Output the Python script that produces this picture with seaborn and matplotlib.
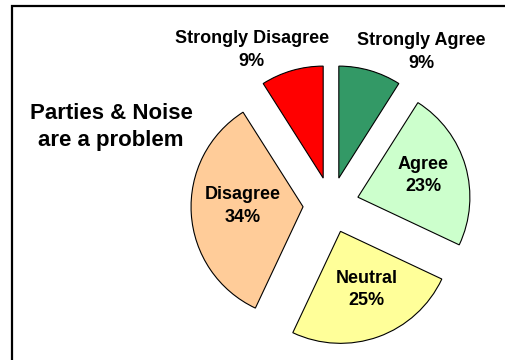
import matplotlib
matplotlib.use("Agg")
import matplotlib.pyplot as plt
import matplotlib.patches as mpatches
import numpy as np
import seaborn as sns

# ---- data ----
categories = ["Strongly Agree", "Agree", "Neutral", "Disagree", "Strongly Disagree"]
values = [9, 23, 25, 34, 9]
colors = ["#339966", "#CCFFCC", "#FFFF99", "#FFCC99", "#FF0000"]
title_text = "Parties & Noise\nare a problem"

# ---- style / placement ----
label_r = [1.585, 0.863, 0.82, 0.786, 1.557]      # in pie radii
label_ang = [59.5, 17.8, -67.0, 180.7, 117.0]       # degrees from pie centre

sns.set_theme(style="white")
plt.rcParams["font.family"] = ["Liberation Sans", "DejaVu Sans"]

W, H = 505, 360
fig = plt.figure(figsize=(W / 100, H / 100), dpi=100)
ax = fig.add_axes([0, 0, 1, 1])

cx, cy, R, gap = 331, 155, 112, 28
wedges, _ = ax.pie(values, colors=colors, startangle=90, counterclock=False,
                   explode=[gap] * len(values), center=(cx, cy), radius=R,
                   wedgeprops=dict(edgecolor="black", linewidth=0.8),
                   frame=True)
ax.set_xlim(0, W)
ax.set_ylim(0, H)
ax.set_axis_off()

for cat, v, r, a in zip(categories, values, label_r, label_ang):
    x = cx + r * R * np.cos(np.radians(a))
    y = cy + r * R * np.sin(np.radians(a))
    ax.text(x, y, f"{cat}\n{v}%", ha="center", va="center", fontsize=13,
            fontweight="bold", linespacing=1.45, color="black")

ax.text(111, 360 - 127, title_text, ha="center", va="center", fontsize=16,
        fontweight="bold", linespacing=1.35, color="black")

# chart frame (extends past right / bottom edges)
ax.add_patch(mpatches.Rectangle((11.5, -20), 600, 355 + 20 - 0.5, fill=False,
                                edgecolor="black", linewidth=1.6, clip_on=False))

fig.savefig("out.png", dpi=100)
